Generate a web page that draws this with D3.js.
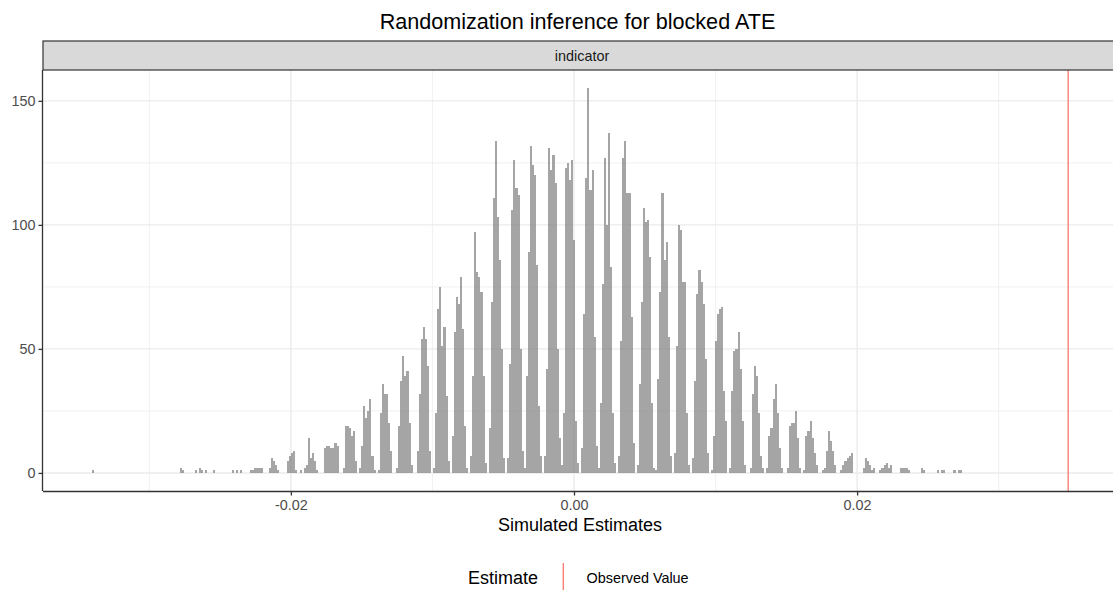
<!DOCTYPE html>
<html>
<head>
<meta charset="utf-8">
<script src="https://cdn.jsdelivr.net/npm/d3@7"></script>
<style>
  html, body { margin: 0; padding: 0; background: #ffffff; }
  svg { display: block; font-family: "Liberation Sans", Arial, Helvetica, sans-serif; }
</style>
</head>
<body>
<svg id="chart" width="1113" height="591"></svg>
<script>
// ---------------- data ----------------
const title = "Randomization inference for blocked ATE";
const facetLabel = "indicator";
const xAxisTitle = "Simulated Estimates";
const legendTitle = "Estimate";
const legendLabel = "Observed Value";
const observedValue = 0.03491;

// histogram bins: first bin left edge and bin width (data units)
const binStart = -0.034788;
const binWidth = 0.00014527;
// counts per bin, written 9 bins per row
const binCounts = [
  0,0,0,0,0,1,0,0,0,
  0,0,0,0,0,0,0,0,0,
  0,0,0,0,0,0,0,0,0,
  0,0,0,0,0,0,0,0,0,
  0,0,0,0,0,0,0,0,0,
  0,0,0,2,1,0,0,0,0,
  0,1,0,2,1,0,1,0,0,
  0,1,0,0,0,0,0,0,0,
  0,1,0,1,0,1,0,0,0,
  0,1,1,2,2,2,2,0,0,
  0,2,6,5,3,1,0,0,0,
  0,5,7,8,9,1,0,1,0,
  2,3,14,6,8,5,1,0,0,
  0,10,11,11,10,10,12,11,0,
  0,2,19,19,18,15,17,5,0,
  2,11,27,22,25,30,7,1,0,
  1,24,36,32,32,20,9,0,0,
  2,19,37,47,39,41,20,3,0,
  0,9,32,54,59,54,43,9,0,
  2,24,66,75,51,59,31,5,0,
  15,57,71,68,79,58,19,2,0,
  7,39,97,81,79,73,39,4,0,
  18,69,111,134,103,86,50,6,0,
  6,44,106,126,115,112,50,9,2,
  39,89,132,124,120,84,27,7,0,
  7,42,131,122,128,117,50,14,3,
  24,123,125,118,126,94,21,4,0,
  10,64,119,155,114,122,55,11,2,
  28,76,127,100,137,83,24,4,0,
  7,53,127,134,113,113,63,12,0,
  3,36,69,107,101,102,87,28,2,
  1,38,73,113,86,93,55,7,0,
  8,51,100,98,77,77,24,3,0,
  6,37,72,82,77,68,46,8,0,
  1,15,53,64,66,67,33,21,0,
  2,33,49,50,57,42,21,3,0,
  0,2,32,43,39,24,7,2,0,
  2,15,18,30,36,24,10,2,0,
  0,2,19,20,20,25,14,2,0,
  1,15,17,21,14,8,3,0,0,
  1,2,9,17,13,9,3,0,0,
  1,3,5,6,7,8,0,0,0,
  0,0,2,6,5,3,1,2,0,
  0,1,2,3,4,2,3,0,0,
  0,0,2,2,2,2,1,0,0,
  0,0,0,2,1,0,0,0,0,
  0,0,1,0,1,1,0,0,0,
  0,1,0,1,1,0,0,0,0
];

const xTicksMajor = [-0.02, 0.00, 0.02];
const xTicksMinor = [-0.03, -0.01, 0.01, 0.03];
const yTicksMajor = [0, 50, 100, 150];
const yTicksMinor = [25, 75, 125];

// ---------------- layout ----------------
const svg = d3.select("#chart");
const panel = { left: 43, right: 1117, top: 70, bottom: 491 };
const strip = { top: 41, bottom: 70 };

const bins = binCounts.map((c, i) => ({
  x0: binStart + i * binWidth,
  x1: binStart + (i + 1) * binWidth,
  count: c
}));
const nonzero = bins.filter(b => b.count > 0);
const dataMin = d3.min(nonzero, b => b.x0);
const dataMax = Math.max(d3.max(nonzero, b => b.x1), observedValue);
const xr = dataMax - dataMin;
const x = d3.scaleLinear()
  .domain([dataMin - 0.05 * xr, dataMax + 0.05 * xr])
  .range([panel.left, panel.right]);
const yMax = d3.max(bins, b => b.count);
const y = d3.scaleLinear()
  .domain([-0.047 * yMax, yMax * 1.048])
  .range([panel.bottom, panel.top]);

const grid = svg.append("g");
grid.selectAll(".gxm").data(xTicksMinor).join("line")
  .attr("x1", d => x(d)).attr("x2", d => x(d))
  .attr("y1", panel.top).attr("y2", panel.bottom)
  .attr("stroke", "#EBEBEB").attr("stroke-width", 0.7);
grid.selectAll(".gym").data(yTicksMinor).join("line")
  .attr("x1", panel.left).attr("x2", panel.right)
  .attr("y1", d => y(d)).attr("y2", d => y(d))
  .attr("stroke", "#EBEBEB").attr("stroke-width", 0.7);
grid.selectAll(".gxM").data(xTicksMajor).join("line")
  .attr("x1", d => x(d)).attr("x2", d => x(d))
  .attr("y1", panel.top).attr("y2", panel.bottom)
  .attr("stroke", "#EBEBEB").attr("stroke-width", 1.4);
grid.selectAll(".gyM").data(yTicksMajor).join("line")
  .attr("x1", panel.left).attr("x2", panel.right)
  .attr("y1", d => y(d)).attr("y2", d => y(d))
  .attr("stroke", "#EBEBEB").attr("stroke-width", 1.4);

// bars
svg.append("g").selectAll("rect").data(nonzero).join("rect")
  .attr("x", d => x(d.x0))
  .attr("width", d => x(d.x1) - x(d.x0))
  .attr("y", d => y(d.count))
  .attr("height", d => y(0) - y(d.count))
  .attr("fill", "#7F7F7F")
  .attr("fill-opacity", 0.7)
  .attr("shape-rendering", "crispEdges");

// observed value line
svg.append("line")
  .attr("x1", x(observedValue)).attr("x2", x(observedValue))
  .attr("y1", panel.top).attr("y2", panel.bottom)
  .attr("stroke", "#F8766D").attr("stroke-width", 1.3);

// axes
const fmtX = d => d3.format(".2f")(d).replace("\u2212", "-");
const xAxis = d3.axisBottom(x).tickValues(xTicksMajor).tickFormat(fmtX).tickSize(4.5).tickPadding(4);
const gx = svg.append("g").attr("transform", `translate(0,${panel.bottom})`).call(xAxis);
gx.select(".domain").attr("d", `M${panel.left},0.5H${panel.right}`).attr("stroke", "#333333").attr("stroke-width", 1.3);
gx.selectAll(".tick line").attr("stroke", "#333333").attr("stroke-width", 1.3);
gx.selectAll(".tick text").attr("fill", "#4D4D4D").attr("font-size", "14.4px")
  .attr("font-family", "Liberation Sans, Arial, sans-serif");

const yAxis = d3.axisLeft(y).tickValues(yTicksMajor).tickFormat(d3.format("d")).tickSize(4.5).tickPadding(3);
const gy = svg.append("g").attr("transform", `translate(${panel.left},0)`).call(yAxis);
gy.select(".domain").attr("d", `M-0.5,${panel.top}V${panel.bottom}`).attr("stroke", "#333333").attr("stroke-width", 1.3);
gy.selectAll(".tick line").attr("stroke", "#333333").attr("stroke-width", 1.3);
gy.selectAll(".tick text").attr("fill", "#4D4D4D").attr("font-size", "14.4px")
  .attr("font-family", "Liberation Sans, Arial, sans-serif");

// facet strip
svg.append("rect")
  .attr("x", panel.left).attr("y", strip.top)
  .attr("width", panel.right - panel.left).attr("height", strip.bottom - strip.top)
  .attr("fill", "#D9D9D9").attr("stroke", "#333333").attr("stroke-width", 1.2);
svg.append("text")
  .attr("x", (panel.left + panel.right) / 2 + 2).attr("y", (strip.top + strip.bottom) / 2 + 5)
  .attr("text-anchor", "middle").attr("font-size", "14.4px").attr("fill", "#1A1A1A")
  .text(facetLabel);

// titles
svg.append("text").attr("x", 577.5).attr("y", 28.5)
  .attr("text-anchor", "middle").attr("font-size", "21.6px").attr("fill", "#000")
  .text(title);
svg.append("text").attr("x", 580).attr("y", 530.5)
  .attr("text-anchor", "middle").attr("font-size", "18px").attr("fill", "#000")
  .text(xAxisTitle);

// legend
const lg = svg.append("g");
lg.append("text").attr("x", 468).attr("y", 584.3).attr("font-size", "18px").attr("fill", "#000").text(legendTitle);
lg.append("line").attr("x1", 563.3).attr("x2", 563.3).attr("y1", 563).attr("y2", 590)
  .attr("stroke", "#F8766D").attr("stroke-width", 1.3);
lg.append("text").attr("x", 586.5).attr("y", 583.3).attr("font-size", "14.4px").attr("fill", "#000").text(legendLabel);
</script>
</body>
</html>
